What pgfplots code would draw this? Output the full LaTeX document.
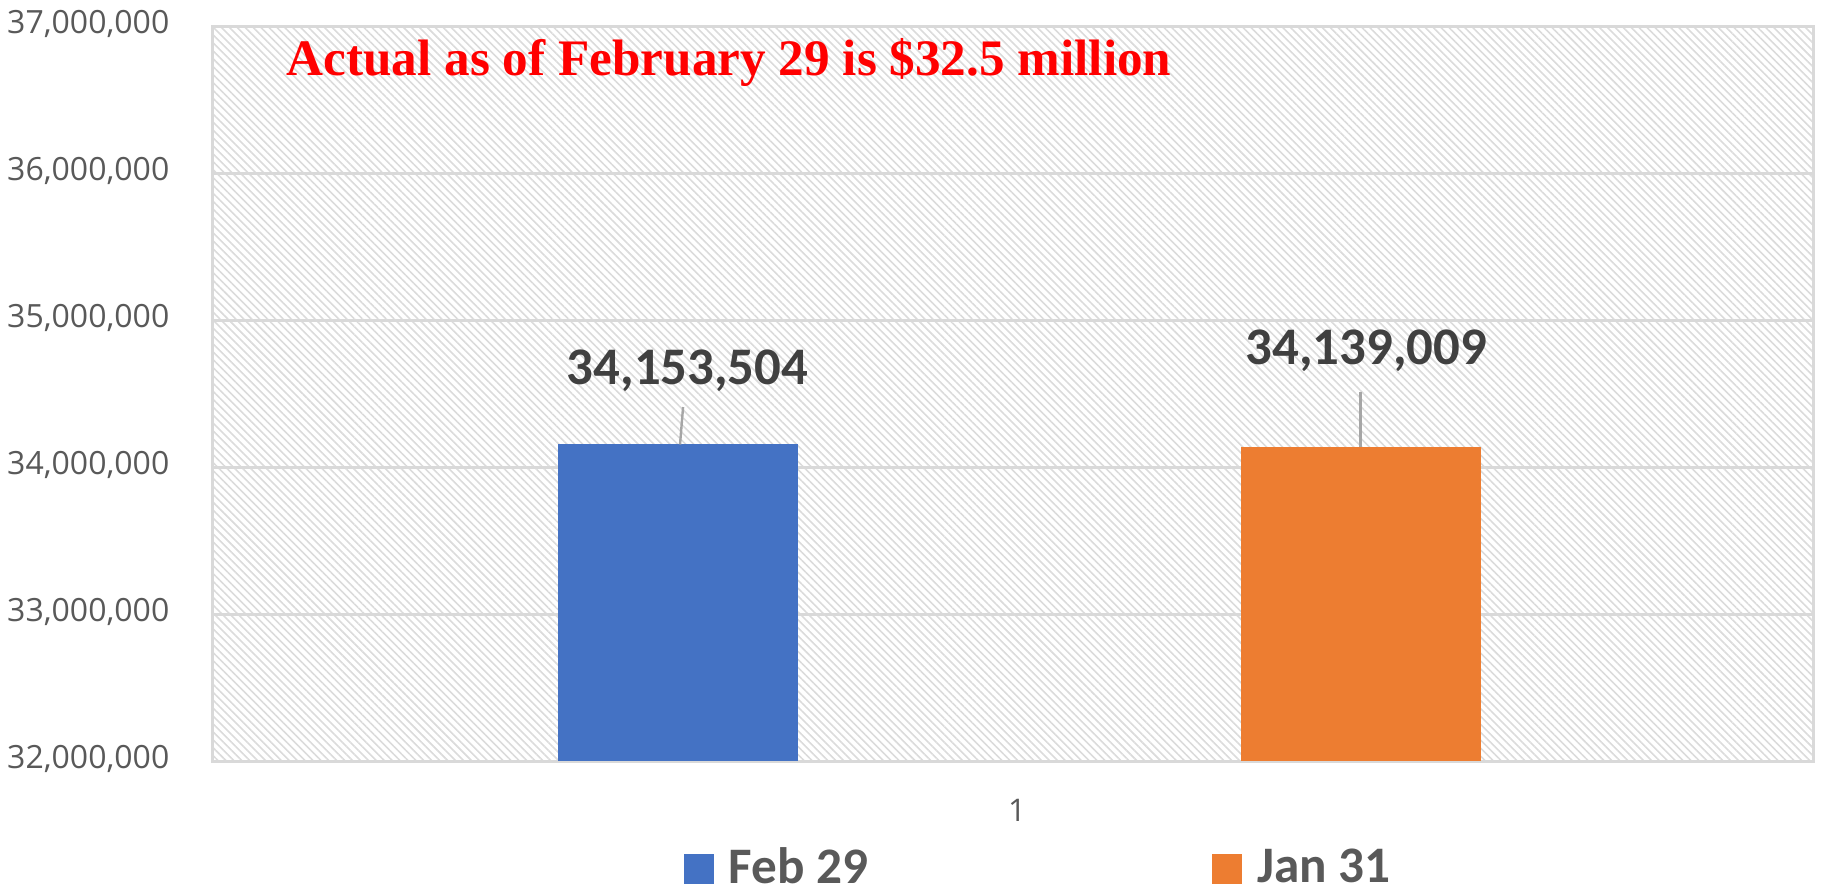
\documentclass[border=0pt]{standalone}
\usepackage{fontspec}
\setmainfont{Carlito}
\newfontfamily\tickfont{Open Sans}
\newfontfamily\titlefont{Liberation Serif}
\usepackage{pgfplots}
\pgfplotsset{compat=1.18}
\usetikzlibrary{patterns.meta}
\definecolor{bblue}{HTML}{4472C4}
\definecolor{borange}{HTML}{ED7D31}
\definecolor{gridgray}{HTML}{D9D9D9}
\definecolor{ticktext}{HTML}{595959}
\definecolor{labeltext}{HTML}{404040}
\definecolor{hatch}{HTML}{DBDBDB}
\definecolor{leader}{HTML}{A6A6A6}
\pgfplotsset{sqlegend/.style={legend image code/.code={\fill[##1] (0pt,-3.75pt) rectangle (7.5pt,3.75pt);}}}
\begin{document}
\begin{tikzpicture}
\begin{axis}[
  scale only axis, width=400pt, height=183.75pt,
  at={(0,0)}, anchor=south west,
  xmin=0, xmax=1, ymin=32000000, ymax=37000000,
  ytick={32000000,33000000,34000000,35000000,36000000,37000000},
  xtick={0.5}, xticklabels={1},
  ymajorgrids, grid style={gridgray, line width=0.75pt},
  axis line style={gridgray, line width=0.75pt},
  major tick length=0pt,
  scaled y ticks=false,
  axis background/.style={pattern={Lines[angle=-45,distance=1.4pt,line width=0.4pt]}, pattern color=hatch},
  yticklabel style={/pgf/number format/.cd, fixed, precision=0, 1000 sep={,}, assume math mode=true, /tikz/.cd,
    font=\tickfont\fontsize{8}{9.5}\selectfont, text=ticktext, xshift=-7.4pt, yshift=0.6pt},
  xticklabel style={font=\tickfont\fontsize{7.8}{9}\selectfont, text=ticktext, yshift=-6pt, xshift=1pt},
  legend columns=2,
  legend style={at={(0.29375,0)}, anchor=west, yshift=-26.9pt, draw=none, fill=none, inner sep=0pt,
    font=\bfseries\fontsize{12.8}{15}\selectfont, text=ticktext,
    /tikz/every odd column/.append style={column sep=1.75pt},
    /tikz/every even column/.append style={column sep=84pt}},
]
\addplot[ybar, sqlegend, bar width=0.15, bar shift=0pt, fill=bblue, draw=none,
  point meta=explicit symbolic, nodes near coords,
  every node near coord/.append style={font=\bfseries\fontsize{13.2}{15}\selectfont, text=labeltext, anchor=base, yshift=15pt, xshift=2.4pt, inner sep=0pt}]
  coordinates {(0.2906,34153504) [34,153,504]};
\addlegendentry{Feb 29}
\addplot[ybar, sqlegend, bar width=0.15, bar shift=0pt, fill=borange, draw=none,
  point meta=explicit symbolic, nodes near coords,
  every node near coord/.append style={font=\bfseries\fontsize{13.2}{15}\selectfont, text=labeltext, anchor=base, yshift=20.5pt, xshift=1.4pt, inner sep=0pt}]
  coordinates {(0.7173,34139009) [34,139,009]};
\addlegendentry{Jan 31}
\draw[leader, line width=0.6pt] (axis cs:0.2938,34408000) -- (axis cs:0.2919,34153504);
\draw[leader, line width=0.6pt] (axis cs:0.7173,34513000) -- (axis cs:0.7173,34139009);
\node[anchor=base west, inner sep=0pt, text=red, font=\titlefont\bfseries\fontsize{12.8}{15}\selectfont]
  at (axis description cs:0.0456,0.933) {Actual as of February 29 is \$32.5 million};
\end{axis}
\pgfresetboundingbox
\useasboundingbox (-53.25pt,-32.5pt) rectangle (405pt,190.25pt);
\end{tikzpicture}
\end{document}
